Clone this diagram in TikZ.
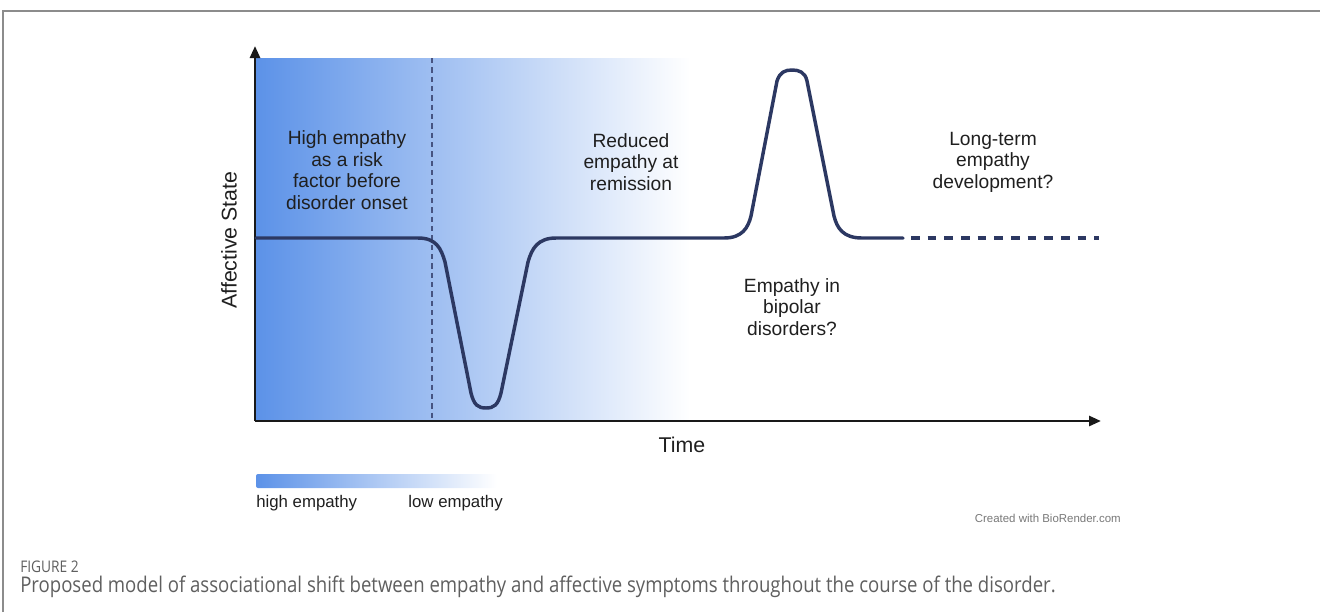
\documentclass[tikz,border=0pt]{standalone}
\usepackage{fontspec}
\setmainfont{Liberation Sans}
\newfontfamily\capfont[FakeStretch=0.86]{Open Sans}
\usetikzlibrary{arrows.meta}
\definecolor{empHigh}{RGB}{92,146,232}
\definecolor{curveNavy}{RGB}{44,56,98}
\definecolor{onsetNavy}{RGB}{70,84,130}
\definecolor{frameGray}{RGB}{140,140,140}
\definecolor{capGray}{RGB}{95,95,95}
\definecolor{creditGray}{RGB}{120,120,120}
\begin{document}
\begin{tikzpicture}[x=0.75pt,y=-0.75pt,
  phase/.style={align=center,font=\fontsize{14.4}{16.1}\selectfont,text=black!88,inner sep=0pt},
  axislabel/.style={font=\fontsize{16}{18}\selectfont,text=black!88,inner sep=0pt},
  legendtext/.style={font=\fontsize{12.6}{14}\selectfont,text=black!88,inner sep=0pt},
  axisline/.style={line width=2pt,black!90,-{Triangle[length=9pt,width=7.5pt]}},
  course/.style={line width=2.6pt,curveNavy,line cap=round,line join=round},
  tail/.style={line width=2.3pt,curveNavy,dash pattern=on 6.5pt off 6pt},
  onset/.style={line width=1.6pt,onsetNavy,dash pattern=on 4pt off 3pt},
  fade/.style={left color=empHigh,right color=white,draw=none}]
\useasboundingbox (0,0) rectangle (1320,612);

% outer frame (top and left rules)
\draw[frameGray,line width=1.6pt] (3,612) -- (3,11) -- (1320,11);

% empathy gradient behind the course
\shade[fade] (256,58) rectangle (690,421);

% disorder onset marker
\coordinate (onsetTop) at (432,58);
\coordinate (onsetBot) at (432,421);
\draw[onset] (onsetTop) -- (onsetBot);

% axes
\coordinate (O) at (255,421);
\coordinate (yEnd) at (255,46);
\coordinate (xEnd) at (1101,421);
\draw[axisline] (O) -- (yEnd);
\draw[axisline] (O) -- (xEnd);
\node[axislabel,rotate=90] (ylab) at (229,240) {Affective State};
\node[axislabel] (xlab) at (682,445) {Time};

% affective course: depressive dip, recovery, manic peak
\draw[course] (256,238) -- (418,238)
  .. controls (436,238) and (441,248) .. (445,262)
  -- (471,393)
  .. controls (474,405) and (478,408) .. (486,408)
  .. controls (494,408) and (498,405) .. (501,393)
  -- (528,262)
  .. controls (532,248) and (538,238) .. (556,238)
  -- (724,238)
  .. controls (742,238) and (748,228) .. (751,216)
  -- (777,81)
  .. controls (780,72) and (785,70) .. (792,70)
  .. controls (799,70) and (805,72) .. (807,81)
  -- (834,216)
  .. controls (837,228) and (843,238) .. (862,238)
  -- (903,238);
\coordinate (tailStart) at (911,238);
\coordinate (tailEnd) at (1099,238);
\draw[tail] (tailStart) -- (tailEnd);

% phase annotations
\node[phase] (pre) at (347,170) {High empathy\\as a risk\\factor before\\disorder onset};
\node[phase] (rem) at (631,162) {Reduced\\empathy at\\remission};
\node[phase] (bip) at (792,307) {Empathy in\\bipolar\\disorders?};
\node[phase] (lt) at (993,162) {Long-term\\empathy\\development?};

% legend
\shade[fade,rounded corners=1.5pt] (256,474) rectangle (497,488);
\node[legendtext,anchor=west] (hi) at (256,503) {high empathy};
\node[legendtext,anchor=east] (lo) at (503,503) {low empathy};
\node[font=\fontsize{8.6}{11}\selectfont,text=creditGray,inner sep=0pt,anchor=east] (credit) at (1121,518) {Created with BioRender.com};

% caption
\node[font=\capfont\fontsize{12}{14}\selectfont,text=capGray,inner sep=0pt,anchor=west] (fig) at (20,567) {FIGURE 2};
\node[font=\capfont\fontsize{16.2}{18}\selectfont,text=capGray,inner sep=0pt,anchor=west] (cap) at (20,587) {Proposed model of associational shift between empathy and affective symptoms throughout the course of the disorder.};
\end{tikzpicture}
\end{document}
